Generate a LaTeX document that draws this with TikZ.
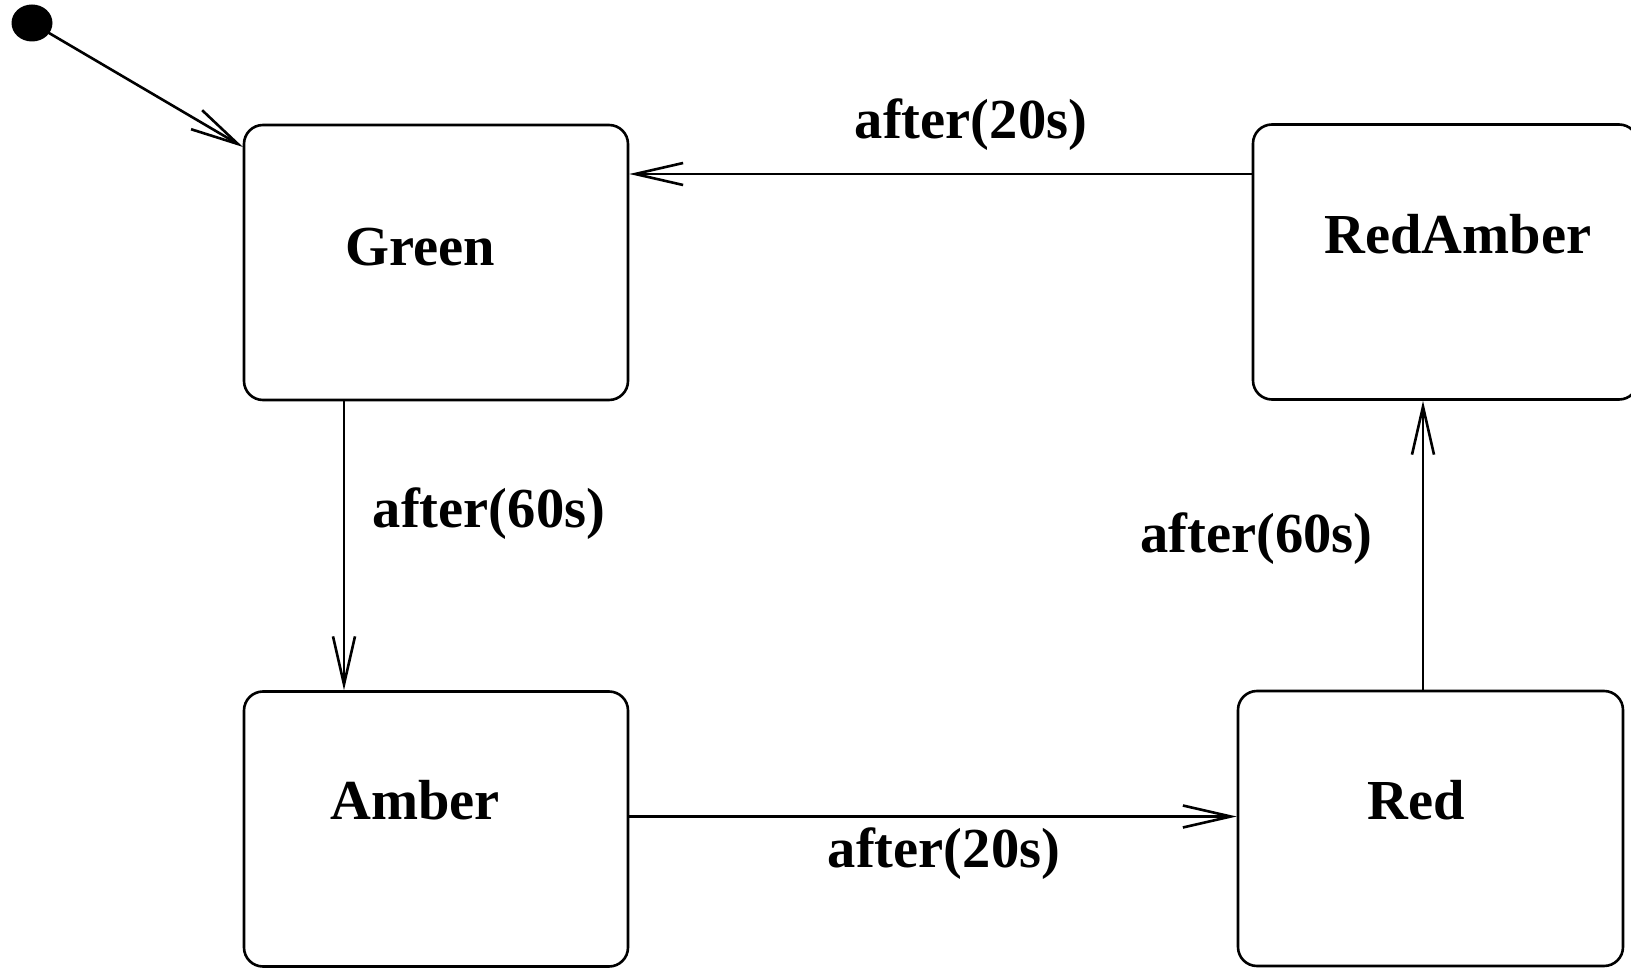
\documentclass[tikz,border=0pt]{standalone}
\usepackage{fontspec}
\setmainfont{Liberation Serif}
\usetikzlibrary{arrows.meta}
\begin{document}
\begin{tikzpicture}[x=1pt,y=-1pt,
  statebox/.style={draw, line width=2.6pt, rounded corners=19pt, minimum width=384pt, minimum height=275pt, inner sep=0pt},
  txt/.style={inner sep=0pt, font=\fontsize{56.5}{60}\selectfont\bfseries},
  tr/.style={line width=2.6pt, -{Straight Barb[length=48pt,width=22pt,line width=2.6pt]}}]
\useasboundingbox (0,0) rectangle (1631,968);
% states
\node[statebox] (green) at (436,262.5) {};
\node[statebox] (amber) at (436,829) {};
\node[statebox, minimum width=385pt] (redamber) at (1445.5,262) {};
\node[statebox, minimum width=385pt] (red) at (1430.5,828.5) {};
% state names
\node[txt] (tgreen) at (420,247) {Green};
\node[txt] (tamber) at (415,800) {Amber};
\node[txt] (tredamber) at (1458,234) {RedAmber};
\node[txt] (tred) at (1416,800) {Red};
% initial pseudo-state
\fill (32,23) ellipse [x radius=20.5pt, y radius=18.5pt];
\coordinate (init) at (32,23);
\coordinate (gentry) at (243,147);
\draw[tr] (init) -- (gentry);
% transitions
\draw[tr] (redamber.west |- 0,174) -- (green.east |- 0,174);
\draw[tr] (green.south -| 344,0) -- (amber.north -| 344,0);
\draw[tr] (amber.east |- 0,816.5) -- (red.west |- 0,816.5);
\draw[tr] (red.north -| 1423,0) -- (redamber.south -| 1423,0);
% transition labels
\node[txt] (l1) at (971,124.5) {after(20s)};
\node[txt] (l2) at (489,513.5) {after(60s)};
\node[txt] (l3) at (944,854) {after(20s)};
\node[txt] (l4) at (1256.5,538.5) {after(60s)};
\end{tikzpicture}
\end{document}
